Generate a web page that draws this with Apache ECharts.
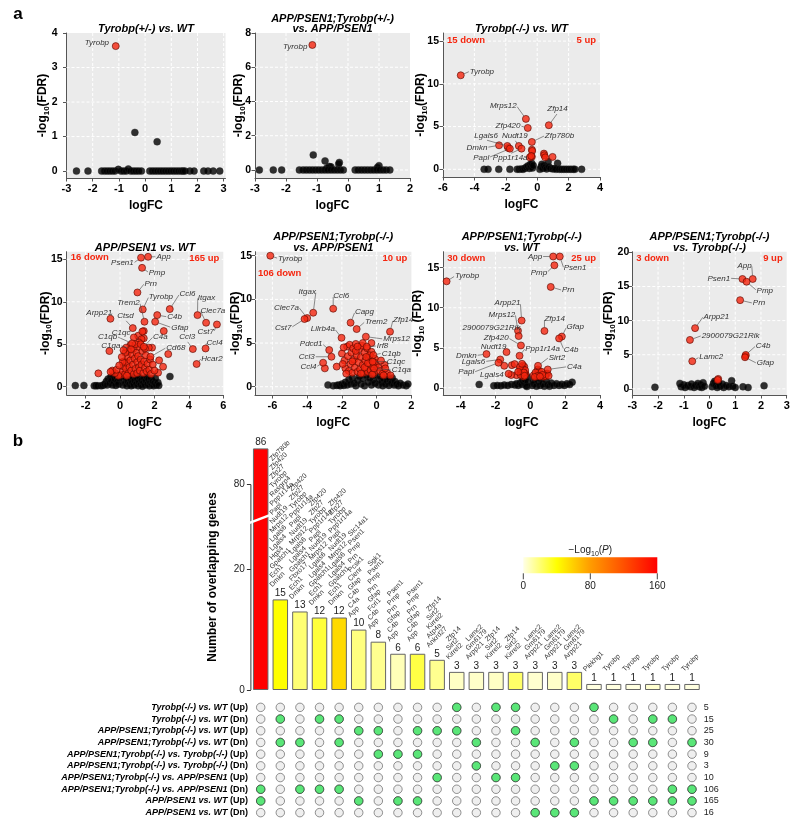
<!DOCTYPE html>
<html><head><meta charset="utf-8">
<script src="https://cdn.jsdelivr.net/npm/echarts@6/dist/echarts.min.js"></script>
<style>html,body{margin:0;padding:0;background:#fff}#c{width:800px;height:830px}</style>
</head><body><div id="c"></div>
<script>
// ================= DATA =================
// Panel a: volcano plots  ([name, logFC, -log10 FDR] for labelled genes, [logFC, -log10 FDR] otherwise)
const p1Genes = [['Tyrobp', -1.12, 3.62]];
const p1Sig = [];
const p1Ns = [[-0.39,1.12],[0.46,0.85],[-2.62,0],[-2.18,0],[-1.66,0],[-1.55,0],[-1.45,0],[-1.35,0],[-1.25,0],[-1.15,0],[-1.02,0.05],[-0.92,0],[-0.82,0],[-0.72,0],[-0.64,0.06],[-0.55,0],[-0.45,0],[-0.35,0],[-0.25,0],[-0.14,0],[0.18,0],[0.28,0],[0.38,0],[0.48,0],[0.58,0],[0.68,0],[0.78,0],[0.88,0],[0.98,0],[1.08,0],[1.18,0],[1.28,0],[1.38,0],[1.45,0],[1.52,0],[1.71,0],[1.87,0],[2.24,0],[2.4,0],[2.6,0],[2.85,0]];
const p1XTicks = [-3,-2,-1,0,1,2,3];
const p1YTicks = [0,1,2,3,4];

const p2Genes = [['Tyrobp', -1.15, 7.3]];
const p2Sig = [];
const p2Ns = [[-1.12,0.88],[-0.74,0.53],[-0.28,0.44],[-0.3,0.35],[-0.6,0.2],[-0.55,0.18],[-0.68,0.12],[1.0,0.25],[0.95,0.15],[-2.86,0],[-2.41,0],[-2.14,0],[-1.57,0],[-1.45,0],[-1.35,0],[-1.25,0],[-1.15,0],[-1.05,0],[-0.95,0],[-0.85,0],[-0.75,0],[-0.65,0],[-0.55,0],[-0.45,0],[-0.35,0],[-0.25,0],[-0.15,0],[0.23,0],[0.33,0],[0.43,0],[0.53,0],[0.63,0],[0.73,0],[0.83,0],[0.93,0],[1.03,0],[1.13,0],[1.23,0],[1.35,0]];
const p2XTicks = [-3,-2,-1,0,1,2];
const p2YTicks = [0,2,4,6,8];

const p3Genes = [['Tyrobp',-4.87,11.0],['Mrps12',-0.72,5.9],['Zfp420',-0.6,4.84],['Zfp14',0.74,5.16],['Zfp780b',-0.34,3.2],['Nudt19',-1.17,2.73],['Lgals6',-1.9,2.73],['Dmkn',-2.43,2.81],['Papl',-1.74,2.42],['Ppp1r14a',-1.0,2.42]];
const p3Sig = [[-1.85,2.5],[-0.34,2.3],[-0.32,2.15],[-0.34,1.48],[-0.47,1.4],[-0.38,1.55],[0.43,1.84],[0.45,1.65],[0.51,1.4],[0.98,1.45]];
const p3Ns = [[-3.38,0],[-3.13,0],[-2.45,0],[-1.74,0],[-1.28,0],[-1.15,0],[-1.0,0.05],[-0.9,0],[-0.8,0.1],[-0.7,0.25],[-0.6,0.4],[-0.5,0.1],[-0.45,0.55],[-0.4,0.3],[-0.35,0.7],[-0.3,0.15],[-0.25,0.45],[0.17,0],[0.25,0.3],[0.3,0.6],[0.35,0.1],[0.42,0.45],[0.5,0.2],[0.6,0.05],[0.7,0.9],[0.75,0.3],[0.85,0.1],[1.0,0.05],[1.1,0.1],[1.3,0.7],[1.2,0],[1.4,0],[1.55,0],[1.7,0],[1.85,0],[2.0,0],[2.15,0],[2.3,0],[2.4,0],[2.83,0]];
const p3XTicks = [-6,-4,-2,0,2,4];
const p3YTicks = [0,5,10,15];

const p4Genes = [['App',1.63,15.3],['Psen1',1.22,15.2],['Pmp',1.28,14.0],['Prn',1.01,11.1],['Tyrobp',1.32,9.1],['Trem2',1.42,7.65],['Ccl6',2.89,9.14],['Itgax',4.5,8.43],['Clec7a',5.0,7.53],['Cst7',5.63,7.33],['C4b',2.16,8.43],['Gfap',2.04,7.65],['Arpp21',-0.56,8.0],['Ctsd',0.74,6.9],['C1qc',0.8,5.8],['C1qb',0.7,5.1],['C1qa',0.64,4.4],['C4a',1.38,4.7],['Cd68',1.77,3.53],['Ccl3',4.23,4.43],['Ccl4',4.97,4.5],['Hcar2',4.45,2.67]];
const p4Sig = [[2.54,6.55],[1.38,6.55],[1.05,6.0],[1.38,5.7],[1.86,4.6],[1.67,4.6],[2.27,3.1],[2.8,3.84],[2.5,2.35],[2.21,1.65],[-0.62,4.2],[-1.26,1.57],[1.3,6.5],[1.25,5.6],[1.1,5.2],[0.05,1.4],[0.15,1.8],[0.2,2.4],[0.25,3.0],[0.3,1.5],[0.35,2.1],[0.4,2.8],[0.45,3.5],[0.5,1.6],[0.5,4.2],[0.55,2.3],[0.6,3.1],[0.65,1.9],[0.7,3.8],[0.75,2.6],[0.8,1.5],[0.8,4.5],[0.85,3.3],[0.9,2.1],[0.95,4.0],[1.0,2.9],[1.0,1.6],[1.05,3.6],[1.1,2.3],[1.1,4.7],[1.15,1.9],[1.2,3.2],[1.25,2.6],[1.3,4.2],[1.35,1.6],[1.4,3.0],[1.45,2.2],[1.5,3.7],[1.55,1.8],[1.6,2.7],[1.7,2.0],[1.75,3.2],[1.8,1.5],[0.3,4.0],[0.6,4.9],[0.9,5.0],[1.2,5.0],[1.45,4.5],[0.15,2.9],[0.4,1.3],[1.9,2.6],[2.0,1.9],[-0.1,1.3],[-0.3,1.6],[-0.45,1.9],[-0.55,1.75],[-0.2,2.0],[0.35,4.6],[0.1,3.5],[0.2,4.3],[-0.05,2.5]];
const p4Ns = [[-2.6,0.13],[-2.1,0.15],[-1.5,0.1],[-1.4,0.12],[-1.3,0.1],[-1.1,0.1],[-1.0,0.15],[-0.9,0.3],[-0.8,0.6],[-0.75,0.2],[-0.7,0.9],[-0.6,0.4],[-0.55,1.1],[-0.5,0.7],[-0.45,0.2],[-0.4,1.3],[-0.35,0.5],[-0.3,0.9],[-0.25,0.15],[-0.2,1.2],[-0.15,0.6],[-0.1,0.3],[-0.05,1.0],[0.15,0.2],[0.2,0.8],[0.25,1.3],[0.3,0.4],[0.35,1.0],[0.4,0.1],[0.45,0.6],[0.5,1.2],[0.55,0.3],[0.6,0.9],[0.65,0.1],[0.7,0.5],[0.75,1.1],[0.8,0.2],[0.85,0.7],[0.9,1.25],[0.95,0.35],[1.0,0.9],[1.05,0.1],[1.1,0.55],[1.15,1.1],[1.2,0.25],[1.25,0.75],[1.3,0.05],[1.35,0.5],[1.4,1.0],[1.45,0.2],[1.5,0.7],[1.55,1.2],[1.6,0.3],[1.65,0.85],[1.7,0.1],[1.75,0.5],[1.8,1.0],[1.85,0.25],[1.9,0.6],[1.95,0.1],[2.0,0.45],[2.05,1.0],[2.1,0.2],[2.2,0.5],[2.25,0.15],[2.9,1.2]];
const p4XTicks = [-2,0,2,4,6];
const p4YTicks = [0,5,10,15];

const p5Genes = [['Tyrobp',-6.12,15.0],['Itgax',-3.65,8.47],['Clec7a',-4.0,7.86],['Cst7',-4.15,7.75],['Ccl6',-2.5,8.93],['Capg',-1.5,7.33],['Trem2',-1.15,6.6],['Zfp14',0.77,6.3],['Lilrb4a',-2.02,5.6],['Mrps12',-0.62,5.73],['Pdcd1',-2.73,4.2],['Irf8',-0.57,4.58],['Ccl3',-2.6,3.43],['Ccl4',-3.08,2.75],['C1qb',-0.19,3.63],['C1qc',-0.23,2.86],['C1qa',-0.15,2.1]];
const p5Sig = [[-2.3,2.3],[-2.98,2.1],[-2.0,3.8],[-1.85,3.0],[-1.8,2.1],[-1.7,4.6],[-1.65,3.5],[-1.6,1.8],[-1.55,4.8],[-1.5,2.6],[-1.45,3.9],[-1.4,1.6],[-1.35,4.4],[-1.3,3.1],[-1.25,2.2],[-1.2,4.9],[-1.15,3.6],[-1.1,1.7],[-1.05,2.8],[-1.0,4.3],[-0.95,2.0],[-0.9,3.4],[-0.85,4.7],[-0.8,2.5],[-0.75,1.6],[-0.7,3.9],[-0.65,3.0],[-0.6,2.1],[-0.55,4.4],[-0.5,1.7],[-0.45,3.3],[-0.4,2.6],[-0.35,1.9],[-0.3,4.0],[-0.25,2.9],[-0.2,2.2],[-0.15,1.6],[-0.1,3.2],[-0.05,2.5],[-1.9,4.5],[-1.2,4.1],[-0.8,5.0],[-0.3,5.0],[-1.4,2.9],[-0.7,2.2],[-0.5,2.7],[-0.9,1.5],[-0.25,1.4],[-0.4,3.6],[-0.15,2.8],[-1.95,2.6],[-1.75,1.5],[-1.1,4.6],[-0.6,3.4],[0.1,2.2],[0.2,1.8],[0.35,1.5],[0.45,2.5],[0.25,3.0],[0.6,1.6],[0.5,2.1],[0.8,1.3],[0.4,1.3]];
const p5Ns = [[-2.8,0.2],[-2.5,0.1],[-2.3,0.15],[-2.2,0.2],[-2.1,0.1],[-2.0,0.3],[-1.9,0.15],[-1.8,0.5],[-1.7,0.2],[-1.6,0.8],[-1.5,0.3],[-1.4,1.0],[-1.3,0.4],[-1.2,0.1],[-1.1,0.7],[-1.0,1.2],[-0.9,0.3],[-0.8,0.9],[-0.7,0.1],[-0.6,1.3],[-0.5,0.5],[-0.4,1.0],[-0.3,0.2],[-0.2,0.8],[-0.15,1.3],[-0.1,0.4],[0.1,0.2],[0.15,0.8],[0.2,1.2],[0.3,0.5],[0.35,0.1],[0.4,0.9],[0.5,0.3],[0.55,1.1],[0.6,0.6],[0.7,0.15],[0.75,0.8],[0.85,0.4],[0.9,1.0],[1.0,0.2],[1.05,0.6],[1.15,0.3],[1.25,0.1],[1.35,0.4],[1.5,0.2],[1.7,0.1],[1.8,0.3]];
const p5XTicks = [-6,-4,-2,0,2];
const p5YTicks = [0,5,10,15];

const p6Genes = [['App',1.31,16.4],['Psen1',1.69,16.4],['Pmp',1.38,15.3],['Prn',1.17,12.6],['Tyrobp',-4.81,13.3],['Arpp21',-0.5,8.4],['Mrps12',-0.71,7.13],['2900079G21Rik',-0.67,6.46],['Zfp420',-0.54,5.29],['Nudt19',-1.37,4.46],['Dmkn',-2.52,4.21],['Lgals6',-1.73,3.54],['Papl',-1.83,3.13],['Lgals4',-1.25,1.75],['Ppp1r14a',-0.62,4.0],['Zfp14',0.81,7.1],['Gfap',1.81,6.4],['C4b',1.65,6.17],['Sirt2',0.44,2.75],['C4a',1.0,2.29]];
const p6Sig = [[-1.5,2.75],[-1.06,2.83],[-0.9,2.96],[-0.58,2.29],[-0.52,2.0],[-0.42,2.79],[-0.35,2.63],[-0.27,1.71],[-0.79,1.58],[-0.4,1.4],[-0.45,2.4],[-0.3,2.2],[-0.55,1.6],[-0.38,1.9],[-0.6,2.6],[-0.33,1.5],[-0.48,3.0],[-1.1,1.6],[-0.7,2.0],[0.42,2.29],[0.96,1.79],[0.58,1.71],[0.35,1.46],[0.77,1.38],[0.88,1.71],[0.19,1.58],[0.5,2.1],[0.3,1.9],[0.65,2.0],[0.45,1.5],[0.85,1.45],[0.25,1.35],[0.7,1.6],[0.55,1.4],[1.05,1.5]];
const p6Ns = [[-2.94,0.42],[-2.1,0.25],[-1.9,0.3],[-1.7,0.25],[-1.5,0.35],[-1.3,0.3],[-1.1,0.4],[-0.9,0.35],[-0.8,0.5],[-0.7,0.3],[-0.6,0.6],[-0.5,0.4],[-0.45,0.9],[-0.4,1.3],[-0.35,0.6],[-0.3,1.0],[-0.25,0.3],[-0.2,1.4],[-0.15,0.7],[-0.3,1.8],[-0.2,0.15],[0.1,0.3],[0.15,1.0],[0.2,0.5],[0.3,1.2],[0.35,0.2],[0.45,0.8],[0.55,0.3],[0.6,1.1],[0.7,0.5],[0.8,0.2],[0.9,0.9],[1.0,0.4],[1.1,0.2],[1.2,0.6],[1.35,0.3],[1.5,0.5],[1.65,0.3],[1.8,0.45],[1.95,0.3],[2.1,0.5],[2.25,0.4],[2.4,0.7]];
const p6XTicks = [-4,-2,0,2,4];
const p6YTicks = [0,5,10,15];

const p7Genes = [['App',1.68,16.1],['Psen1',1.28,16.1],['Pmp',1.44,15.7],['Prn',1.19,13.0],['Arpp21',-0.56,8.9],['2900079G21Rik',-0.76,7.17],['Lamc2',-0.67,4.05],['C4b',1.41,4.98],['Gfap',1.38,4.63]];
const p7Sig = [[0.34,1.46],[1.4,4.8],[0.32,1.3]];
const p7Ns = [[-2.12,0.24],[-1.15,0.8],[-1.0,0.6],[-1.1,0.3],[-0.95,0.2],[-0.85,0.5],[-0.75,0.3],[-0.7,0.7],[-0.6,0.2],[-0.55,0.5],[-0.45,0.8],[-0.4,0.3],[-0.35,0.6],[-0.3,0.2],[-0.25,0.9],[-0.2,0.4],[0.1,0.3],[0.15,0.8],[0.2,1.1],[0.25,0.5],[0.3,0.2],[0.35,0.9],[0.4,0.4],[0.5,0.7],[0.55,0.2],[0.65,0.5],[0.75,0.3],[0.86,1.2],[0.9,0.4],[1.0,0.2],[1.3,0.3],[1.5,0.2],[2.12,0.47]];
const p7XTicks = [-3,-2,-1,0,1,2,3];
const p7YTicks = [0,5,10,15,20];

const titles = [['Tyrobp(+/-) vs. WT'],['APP/PSEN1;Tyrobp(+/-)','vs. APP/PSEN1'],['Tyrobp(-/-) vs. WT'],['APP/PSEN1 vs. WT'],['APP/PSEN1;Tyrobp(-/-)','vs. APP/PSEN1'],['APP/PSEN1;Tyrobp(-/-)','vs. WT'],['APP/PSEN1;Tyrobp(-/-)','vs. Tyrobp(-/-)']];
const deCounts = [null, null, ['15 down','5 up'], ['16 down','165 up'], ['106 down','10 up'], ['30 down','25 up'], ['3 down','9 up']];

// Panel b: overlap sets
const rowLabels = ['Tyrobp(-/-) vs. WT (Up)','Tyrobp(-/-) vs. WT (Dn)','APP/PSEN1;Tyrobp(-/-) vs. WT (Up)','APP/PSEN1;Tyrobp(-/-) vs. WT (Dn)','APP/PSEN1;Tyrobp(-/-) vs. Tyrobp(-/-) (Up)','APP/PSEN1;Tyrobp(-/-) vs. Tyrobp(-/-) (Dn)','APP/PSEN1;Tyrobp(-/-) vs. APP/PSEN1 (Up)','APP/PSEN1;Tyrobp(-/-) vs. APP/PSEN1 (Dn)','APP/PSEN1 vs. WT (Up)','APP/PSEN1 vs. WT (Dn)'];
const rowTotals = [5,15,25,30,9,3,10,106,165,16];
const setCounts = [86,15,13,12,12,10,8,6,6,5,3,3,3,3,3,3,3,1,1,1,1,1,1];
const setLogP = [160,40,20,30,55,18,15,8,28,15,6,5,6,22,4,5,22,1,1,1,4,1,1];
const setMembers = [[7,8],[1,3],[3,7],[1,7],[1,3,7],[2,8],[2,4],[4,8],[2,4,8],[2,6],[0,2],[3,5],[0,6],[0,2,6],[3,9],[5,9],[3,5,9],[0,8],[1,8],[3,8],[1,3,8],[1,7,8],[3,7,8]];
const gA = ['Zfp420','Zfp27','Tyrobp','Ppp1r14a','Papl','Nudt19','Mrps12','Lgals6','Lgals4','Gpatch1','Ech1','Dmkn'];
const gB = ['Psen1','Pmp','Prn','Gfap','C4b','App'];
const gC = ['Zfp14','Sirt2','Kirrel2'];
const gD = ['Lamc2','Gm6179','Arpp21'];
const setGenes = [
  [],
  ['Zfp780b','Zfp420','Zfp27','Tyrobp','Rasgrp4','Ppp1r14a','Papl','Nudt19','Mrps12','Lgals6','Lgals4','Hgs4','Gpatch1','Ech1','Dmkn'],
  ['Zfp420','Zfp27','Tyrobp','Ppp1r14a','Papl','Nudt19','Mrps12','Lgals6','Lgals4','Gpatch1','Fbxo17','Ech1','Dmkn'],
  gA, gA,
  ['Slc14a1','Psen1','Pmp','Prn','Pcsk1','Clenr','Gfap','C4b','C4a','App'],
  ['Sgk1','Psen1','Pmp','Prn','Gfap','Fcrl1','C4b','App'],
  gB, gB,
  ['Zfp14','Sirt2','Kirrel2','Atp4a','Ankrd27'],
  gC, gD, gC, gC, gD, gD, gD,
  ['Plekhg1'], ['Tyrobp'], ['Tyrobp'], ['Tyrobp'], ['Tyrobp'], ['Tyrobp']
];
const cbTicks = [0, 80, 160];

// ================= LAYOUT / STYLE =================
const FONT = '"Liberation Sans", Arial, sans-serif';
const V = [
  {genes:p1Genes, sig:p1Sig, ns:p1Ns, xr:[-3,3.07], yr:[-0.2,4], xt:p1XTicks, yt:p1YTicks},
  {genes:p2Genes, sig:p2Sig, ns:p2Ns, xr:[-3,2], yr:[-0.47,8], xt:p2XTicks, yt:p2YTicks},
  {genes:p3Genes, sig:p3Sig, ns:p3Ns, xr:[-6,4], yr:[-0.9,15.95], xt:p3XTicks, yt:p3YTicks},
  {genes:p4Genes, sig:p4Sig, ns:p4Ns, xr:[-3.1,6], yr:[-0.98,15.9], xt:p4XTicks, yt:p4YTicks},
  {genes:p5Genes, sig:p5Sig, ns:p5Ns, xr:[-7,2], yr:[-0.95,15.46], xt:p5XTicks, yt:p5YTicks},
  {genes:p6Genes, sig:p6Sig, ns:p6Ns, xr:[-5,4], yr:[-0.9,17], xt:p6XTicks, yt:p6YTicks},
  {genes:p7Genes, sig:p7Sig, ns:p7Ns, xr:[-3,3], yr:[-0.9,20.1], xt:p7XTicks, yt:p7YTicks}
];
const boxes = [[66.5,33,159,145],[255,33,155,145],[443,33,157,144],[66.7,251.7,156.6,143.3],[255,251.7,156.4,143.3],[443.3,251.7,156.7,143.3],[632.3,251.7,154.4,143.3]];
const yNameGap = [15.5,8.5,14,13.5,11,18,16];
const yLabelMargin = [9,4,4,4,3,4,3];
const downPos = [null,null,[4,7],[4,6],[3,22],[4,7],[4,7]];
const labelPos = [
  {Tyrobp:[-6.7,-3.3,'right',0]},
  {Tyrobp:[-5,1.7,'right',0]},
  {Tyrobp:[9,-4,'left'], Mrps12:[-9.3,-13,'right'], Zfp420:[-7.3,-2,'right'], Zfp14:[8.7,-12,'center'], Zfp780b:[13,-6.3,'left'], Nudt19:[-4,-6,'center'], Lgals6:[-21.3,-6,'center'], Dmkn:[-11.7,2,'right'], Papl:[-20.7,8.7,'right'], Ppp1r14a:[-11.3,5,'center']},
  {App:[8.3,0,'left'], Psen1:[-7.3,5.3,'right'], Pmp:[6.7,4.7,'left'], Prn:[7,-9,'left'], Tyrobp:[6,-12.7,'left'], Trem2:[-4.7,-19,'right'], Ccl6:[9.7,-15,'left'], Itgax:[0.3,-17.7,'left'], Clec7a:[-5.7,-12,'left'], Cst7:[-3,7.3,'right'], C4b:[10,1.7,'left'], Gfap:[16,5.7,'left'], Arpp21:[1.7,-6.3,'right'], Ctsd:[-7.3,-8,'center'], C1qc:[-3.3,-5,'right'], C1qb:[-15,-6.7,'right'], C1qa:[-10.7,-3.7,'right'], C4a:[9.3,-10,'left'], Cd68:[15.7,-9,'left'], Ccl3:[-5.7,-8,'center'], Ccl4:[1,-6,'left'], Hcar2:[4.7,-5.7,'left']},
  {Tyrobp:[7.7,2.7,'left'], Itgax:[2.7,-21,'right'], Clec7a:[-8.3,-10.7,'right'], Cst7:[-13,8.3,'right'], Ccl6:[0,-12.7,'left'], Capg:[4.3,-10.7,'left'], Trem2:[8.3,-7.3,'left'], Zfp14:[3,-11.7,'left'], Lilrb4a:[-6.7,-8.7,'right'], Mrps12:[17.3,2.3,'left'], Pdcd1:[-6.7,-6,'right'], Irf8:[10,-0.7,'left'], Ccl3:[-16.7,0,'right'], Ccl4:[-6.7,4,'right'], C1qb:[8.3,-1.7,'left'], C1qc:[14,0,'left'], C1qa:[17.7,1.7,'left']},
  {App:[-11,0,'right'], Psen1:[4,11.7,'left'], Pmp:[-7.3,7,'right'], Prn:[11.3,3.3,'left'], Tyrobp:[8.3,-5.3,'left'], Arpp21:[-1.3,-17.3,'right'], Mrps12:[-2.7,-16.3,'right'], '2900079G21Rik':[1.7,-8.7,'right'], Zfp420:[-12.3,-7.3,'right'], Nudt19:[0,-5.3,'right'], Dmkn:[-9.7,1.3,'right'], Lgals6:[-15,2,'right'], Papl:[-24.3,9.3,'right'], Lgals4:[-5,1.3,'right'], Ppp1r14a:[5.7,-7.3,'left'], Zfp14:[0,-11.7,'left'], Gfap:[4.7,-9.7,'left'], C4b:[4.7,11,'left'], Sirt2:[10.7,-8.3,'left'], C4a:[19.3,-2.7,'left']},
  {App:[-1,-13.7,'right'], Psen1:[-12.3,-0.7,'right'], Pmp:[10,8.7,'left'], Prn:[12.7,3,'left'], Arpp21:[8.3,-11.7,'left'], '2900079G21Rik':[11.7,-4.3,'left'], Lamc2:[7,-4,'left'], C4b:[10,-9,'left'], Gfap:[11.7,6,'left']}
];
const cbColors = ['#ffffe6','#ffff00','#ff9c00','#ff5000','#ff0000'];
const tr = v => v <= 20 ? v : v - 46;      // broken axis: 20..66 removed
const untr = t => t <= 20 ? t : t + 46;

// ================= BUILD =================
const chart = echarts.init(document.getElementById('c'), null, {width:800, height:830});
const grids = [], xAxes = [], yAxes = [], series = [];
const tickStyle = {fontSize:10.5, fontWeight:'bold', color:'#000', fontFamily:FONT};
V.forEach((v, i) => {
  const b = boxes[i];
  grids.push({left:b[0], top:b[1], width:b[2], height:b[3], show:true, backgroundColor:'#ebebeb', borderWidth:0});
  xAxes.push({type:'value', gridIndex:i, min:v.xr[0], max:v.xr[1], position:'bottom',
    axisLine:{show:true, onZero:false, lineStyle:{color:'#555', width:1}},
    axisTick:{show:true, length:3.5, customValues:v.xt, lineStyle:{color:'#555'}},
    axisLabel:Object.assign({customValues:v.xt, margin:5, formatter:x => String(x)}, tickStyle, {fontSize:11}),
    splitLine:{show:false},
    name:'logFC', nameLocation:'middle', nameGap:22, nameMoveOverlap:false,
    nameTextStyle:{fontSize:12, fontWeight:'bold', color:'#000', fontFamily:FONT}});
  const sp = i === 5 ? ' ' : '';
  yAxes.push({type:'value', gridIndex:i, min:v.yr[0], max:v.yr[1], position:'left',
    axisLine:{show:true, onZero:false, lineStyle:{color:'#555', width:1}},
    axisTick:{show:true, length:3.5, customValues:v.yt, lineStyle:{color:'#555'}},
    axisLabel:Object.assign({customValues:v.yt, margin:yLabelMargin[i], formatter:x => String(x)}, tickStyle),
    splitLine:{show:false},
    name:'{a|-log}{s|10}{a|' + sp + '(FDR)}', nameLocation:'middle', nameRotate:90, nameGap:yNameGap[i], nameMoveOverlap:false,
    nameTextStyle:{rich:{a:{fontSize:12, fontWeight:'bold', color:'#000', fontFamily:FONT, lineHeight:16},
                         s:{fontSize:8, fontWeight:'bold', color:'#000', fontFamily:FONT, lineHeight:9, verticalAlign:'bottom'}}}});
  series.push({type:'scatter', xAxisIndex:i, yAxisIndex:i, data:v.ns, symbolSize:7, z:3, silent:true,
    itemStyle:{color:'#000', borderColor:'#222', borderWidth:0.5}});
  series.push({type:'scatter', xAxisIndex:i, yAxisIndex:i, data:v.sig.concat(v.genes.map(g => [g[1], g[2]])), symbolSize:7, z:4, silent:true,
    itemStyle:{color:'#f5260f', borderColor:'#5a0800', borderWidth:0.8}});
});

// panel b bars (grid 7)
grids.push({left:250.9, top:448.4, width:450.9, height:241.6});
xAxes.push({type:'category', gridIndex:7, data:setCounts.map((c, i) => String(i + 1)), show:false});
yAxes.push({type:'value', gridIndex:7, min:0, max:40, position:'left',
  axisLine:{show:false},
  axisTick:{show:true, length:4, customValues:[0, 20, tr(80)], lineStyle:{color:'#333'}},
  axisLabel:{customValues:[0, 20, tr(80)], formatter:t => String(Math.round(untr(t))), fontSize:10, color:'#222', fontFamily:FONT, margin:6},
  splitLine:{show:false}});
const barIdx = series.length;
series.push({type:'bar', xAxisIndex:7, yAxisIndex:7, barWidth:15.5, z:2, silent:true,
  data:setCounts.map((c, i) => [i, tr(c), setLogP[i]]), encode:{x:0, y:1},
  itemStyle:{borderColor:'#666', borderWidth:1},
  label:{show:true, position:'top', distance:1, fontSize:10, color:'#222', fontFamily:FONT,
    formatter:p => String(setCounts[p.dataIndex])}});

// panel b matrix (grid 8)
grids.push({left:250.9, top:701.5, width:450.9, height:117});
xAxes.push({type:'category', gridIndex:8, data:setCounts.map((c, i) => String(i + 1)), show:false});
yAxes.push({type:'category', gridIndex:8, data:rowLabels, inverse:true, position:'left',
  axisLine:{show:false}, axisTick:{show:false},
  axisLabel:{margin:3, fontSize:9, fontWeight:'bold', color:'#000', fontFamily:FONT,
    formatter:val => { const m = val.match(/^(.*) (\((Up|Dn)\))$/); return '{i|' + m[1] + '} {b|' + m[2] + '}'; },
    rich:{i:{fontSize:9, fontWeight:'bold', fontStyle:'italic', color:'#000', fontFamily:FONT},
          b:{fontSize:9, fontWeight:'bold', color:'#000', fontFamily:FONT}}}});
yAxes.push({type:'category', gridIndex:8, data:rowTotals.map(String), inverse:true, position:'right',
  axisLine:{show:false}, axisTick:{show:false},
  axisLabel:{margin:2, fontSize:9, color:'#222', fontFamily:FONT}});
const allCells = [], onCells = [];
setMembers.forEach((rows, c) => {
  rowLabels.forEach((r, ri) => { allCells.push([c, ri]); });
  rows.forEach(ri => onCells.push([c, ri]));
});
series.push({type:'scatter', xAxisIndex:8, yAxisIndex:8, data:allCells, symbolSize:8.5, z:2, silent:true,
  itemStyle:{color:'#ebebeb', borderColor:'#555', borderWidth:0.8}});
series.push({type:'scatter', xAxisIndex:8, yAxisIndex:8, data:onCells, symbolSize:8.5, z:3, silent:true,
  itemStyle:{color:'#35e35a', borderColor:'#333', borderWidth:0.8}});

chart.setOption({
  animation:false,
  textStyle:{fontFamily:FONT},
  grid:grids, xAxis:xAxes, yAxis:yAxes, series:series,
  visualMap:[{type:'continuous', show:false, min:0, max:160, dimension:2, seriesIndex:barIdx, inRange:{color:cbColors}}]
});

// ================= GRAPHIC OVERLAYS =================
const els = [];
const txt = (x, y, text, font, fill, align, va, extra) => Object.assign({type:'text', x, y, silent:true, z:6,
  style:{text, font, fill, align, verticalAlign:va}}, extra || {});
els.push(txt(18, 14, 'a', 'bold 17px ' + FONT, '#000', 'center', 'middle'));
els.push(txt(18, 441, 'b', 'bold 17px ' + FONT, '#000', 'center', 'middle'));

V.forEach((v, gi) => {
  const b = boxes[gi];
  // dashed white grid lines
  v.xt.forEach(xv => {
    const px = chart.convertToPixel({gridIndex:gi}, [xv, 0])[0];
    if (px > b[0] + 1 && px < b[0] + b[2] - 1)
      els.push({type:'line', z:1, silent:true, shape:{x1:px, y1:b[1], x2:px, y2:b[1] + b[3]}, style:{stroke:'#fff', lineWidth:1, lineDash:[3, 2]}});
  });
  v.yt.forEach(yv => {
    const py = chart.convertToPixel({gridIndex:gi}, [0, yv])[1];
    if (py > b[1] + 1 && py < b[1] + b[3] - 1)
      els.push({type:'line', z:1, silent:true, shape:{x1:b[0], y1:py, x2:b[0] + b[2], y2:py}, style:{stroke:'#fff', lineWidth:1, lineDash:[3, 2]}});
  });
  // title
  const t = titles[gi];
  const cx = b[0] + b[2] / 2;
  t.forEach((line, k) => {
    const y = b[1] - 4 - (t.length - 1 - k) * 10.5;
    els.push(txt(cx, y, line, 'italic bold 11px ' + FONT, '#000', 'center', 'middle'));
  });
  // counts of DE genes
  if (deCounts[gi]) {
    const dp = downPos[gi];
    els.push(txt(b[0] + dp[0], b[1] + dp[1], deCounts[gi][0], 'bold 9.5px ' + FONT, '#f5260f', 'left', 'middle'));
    els.push(txt(b[0] + b[2] - 4, b[1] + 7, deCounts[gi][1], 'bold 9.5px ' + FONT, '#f5260f', 'right', 'middle'));
  }
  // gene labels with leader lines
  v.genes.forEach(([name, x, y]) => {
    const p = chart.convertToPixel({gridIndex:gi}, [x, y]);
    const L = labelPos[gi][name];
    const ax = p[0] + L[0], ay = p[1] + L[1];
    let va = 'middle';
    if (L[2] === 'center') va = L[1] < 0 ? 'bottom' : 'top';
    els.push(txt(ax, ay, name, 'italic 8px ' + FONT, '#333', L[2], va));
    const d = Math.hypot(L[0], L[1]);
    if (L[3] !== 0 && d > 6) {
      const ux = L[0] / d, uy = L[1] / d;
      els.push({type:'line', z:5, silent:true, shape:{x1:p[0] + ux * 3.5, y1:p[1] + uy * 3.5, x2:ax - ux, y2:ay - uy}, style:{stroke:'#444', lineWidth:0.6}});
    }
  });
});

// panel b: y axis line, break mark, axis title
const yb0 = chart.convertToPixel({xAxisIndex:7, yAxisIndex:7}, [0, 0]);
const yb80 = chart.convertToPixel({xAxisIndex:7, yAxisIndex:7}, [0, tr(80)]);
const ax0 = 250.9;
els.push({type:'line', z:5, silent:true, shape:{x1:ax0, y1:yb0[1], x2:ax0, y2:yb80[1]}, style:{stroke:'#333', lineWidth:1}});
const yBrk = chart.convertToPixel({xAxisIndex:7, yAxisIndex:7}, [0, 28.3])[1];
els.push({type:'line', z:10, silent:true, shape:{x1:ax0 - 2, y1:yBrk + 4, x2:ax0 + 19, y2:yBrk - 4}, style:{stroke:'#fff', lineWidth:2.5}});
els.push(txt(213, 577, 'Number of overlapping genes', 'bold 12px ' + FONT, '#000', 'center', 'middle', {rotation:Math.PI / 2}));

// gene names above bars
setGenes.forEach((list, i) => {
  if (!list.length) return;
  const p = chart.convertToPixel({xAxisIndex:7, yAxisIndex:7}, [i, tr(setCounts[i])]);
  const n = list.length;
  list.forEach((name, j) => {
    const k = n - 1 - j;
    els.push(txt(p[0] - 7, p[1] - 11 - 9 * k, name, '7px ' + FONT, '#333', 'left', 'bottom', {rotation:Math.PI / 4}));
  });
});

// colour bar legend
const cbL = 523.3, cbT = 557.3, cbW = 134, cbH = 16;
els.push({type:'rect', z:5, silent:true, shape:{x:cbL, y:cbT, width:cbW, height:cbH},
  style:{fill:{type:'linear', x:0, y:0, x2:1, y2:0, colorStops:cbColors.map((c, i) => ({offset:i / (cbColors.length - 1), color:c}))}}});
cbTicks.forEach(v => {
  const x = cbL + v / 160 * cbW;
  els.push({type:'line', z:5, silent:true, shape:{x1:x, y1:cbT + cbH, x2:x, y2:cbT + cbH + 6}, style:{stroke:'#444', lineWidth:1}});
  els.push(txt(x, cbT + cbH + 13, String(v), '10px ' + FONT, '#222', 'center', 'middle'));
});
els.push({type:'text', x:cbL + cbW / 2, y:cbT - 7, silent:true, z:6,
  style:{text:'{a|\u2212Log}{s|10}{a|(}{i|P}{a|)}', align:'center', verticalAlign:'middle',
    rich:{a:{fontSize:10, fontFamily:FONT, fill:'#222', lineHeight:14}, i:{fontSize:10, fontStyle:'italic', fontFamily:FONT, fill:'#222', lineHeight:14},
          s:{fontSize:7, fontFamily:FONT, fill:'#222', lineHeight:8, verticalAlign:'bottom'}}}});

chart.setOption({graphic:{elements:els}});
</script>
</body></html>
